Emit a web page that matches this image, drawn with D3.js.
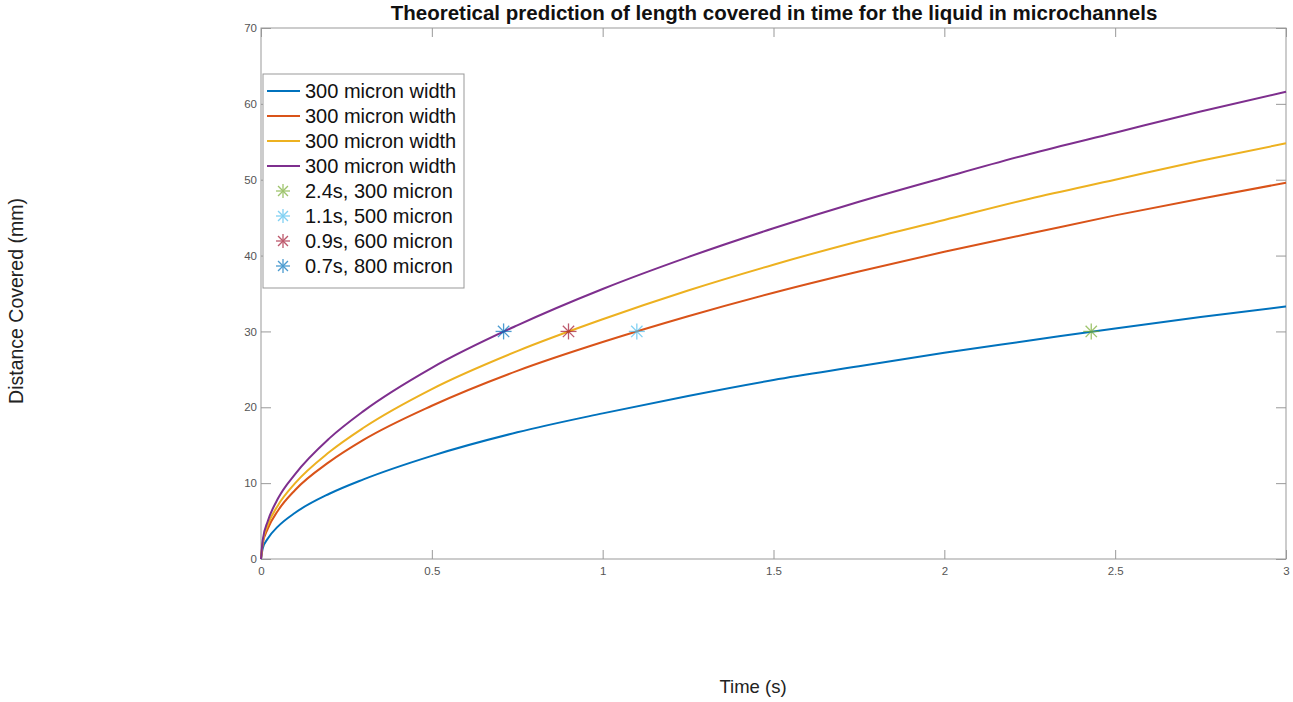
<!DOCTYPE html>
<html>
<head>
<meta charset="utf-8">
<script src="https://cdn.jsdelivr.net/npm/d3@7"></script>
<style>
  body { margin: 0; background: #fff; }
  text { font-family: Arial, "Liberation Sans", Helvetica, sans-serif; }
</style>
</head>
<body>
<script>
// length covered vs time

var time = [0, 0.005, 0.02, 0.05, 0.1, 0.2, 0.3, 0.5, 0.75, 1, 1.25, 1.5, 1.75, 2, 2.25, 2.5, 2.75, 3];
var blue   = [0, 1.4, 2.7, 4.3, 6.1, 8.6, 10.5, 13.6, 16.7, 19.2, 21.5, 23.6, 25.4, 27.2, 28.8, 30.4, 31.9, 33.3];
var orange = [0, 2.0, 4.0, 6.4, 9.1, 12.8, 15.7, 20.2, 24.8, 28.6, 32.0, 35.1, 37.9, 40.5, 42.9, 45.3, 47.5, 49.6];
var yellow = [0, 2.2, 4.5, 7.1, 10.0, 14.1, 17.3, 22.4, 27.4, 31.6, 35.4, 38.8, 41.9, 44.7, 47.5, 50.0, 52.5, 54.8];
var purple = [0, 2.5, 5.0, 8.0, 11.2, 15.9, 19.5, 25.2, 30.8, 35.6, 39.8, 43.6, 47.1, 50.3, 53.4, 56.2, 59.0, 61.6];

var lineNames = ["300 micron width", "300 micron width", "300 micron width", "300 micron width"];
var lineColors = ["#0072BD", "#D95319", "#EDB120", "#7E2F8E"];

var markerNames = ["2.4s, 300 micron", "1.1s, 500 micron", "0.9s, 600 micron", "0.7s, 800 micron"];
var markerT = [2.43, 1.1, 0.9, 0.71];
var markerL = [30, 30, 30, 30];
var markerColors = ["#77AC30", "#4DBEEE", "#A2142F", "#0072BD"];

var xTicks = [0, 0.5, 1, 1.5, 2, 2.5, 3];
var yTicks = [0, 10, 20, 30, 40, 50, 60, 70];

var W = 1293, H = 702;
var margin = {top: 28, right: 7, bottom: 143, left: 261},
    width = W - margin.left - margin.right,
    height = H - margin.top - margin.bottom;

var svg = d3.select("body").append("svg")
    .attr("width", W)
    .attr("height", H);

var g = svg.append("g")
    .attr("transform", "translate(" + margin.left + "," + margin.top + ")");

var x = d3.scaleLinear().domain([0, 3]).range([0, width]);
var y = d3.scaleLinear().domain([0, 70]).range([height, 0]);

var axisColor = "#999";

// box
g.append("rect")
  .attr("width", width).attr("height", height)
  .attr("fill", "none").attr("stroke", axisColor).attr("stroke-width", 1);

// axes, inward ticks on all four sides
function styleAxis(sel) {
  sel.select(".domain").remove();
  sel.selectAll("line").attr("stroke", axisColor);
  sel.selectAll("text").attr("fill", "#555").style("font-size", "11.5px");
}

g.append("g")
  .attr("transform", "translate(0," + height + ")")
  .call(d3.axisBottom(x).tickValues(xTicks).tickFormat(d3.format("")).tickSizeInner(-9).tickPadding(8))
  .call(styleAxis);

g.append("g")
  .call(d3.axisTop(x).tickValues(xTicks).tickFormat("").tickSizeInner(-9))
  .call(styleAxis);

g.append("g")
  .call(d3.axisLeft(y).tickValues(yTicks).tickSizeInner(-10).tickPadding(4))
  .call(styleAxis);

g.append("g")
  .attr("transform", "translate(" + width + ",0)")
  .call(d3.axisRight(y).tickValues(yTicks).tickFormat("").tickSizeInner(-10))
  .call(styleAxis);

// curves
var series = [blue, orange, yellow, purple];
var line = d3.line()
    .x(function(d) { return x(d[0]); })
    .y(function(d) { return y(d[1]); })
    .curve(d3.curveMonotoneX);

series.forEach(function(s, i) {
  g.append("path")
    .datum(time.map(function(t, j) { return [t, s[j]]; }))
    .attr("fill", "none")
    .attr("stroke", lineColors[i])
    .attr("stroke-width", 2)
    .attr("d", line);
});

// asterisk marker
function star(sel, cx, cy, r, color) {
  var m = sel.append("g").attr("transform", "translate(" + cx + "," + cy + ")")
    .attr("stroke", color).attr("stroke-width", 1.3).attr("opacity", 0.7);
  var d = r * 0.7071;
  m.append("line").attr("x1", -r).attr("x2", r).attr("y1", 0).attr("y2", 0);
  m.append("line").attr("x1", 0).attr("x2", 0).attr("y1", -r).attr("y2", r);
  m.append("line").attr("x1", -d).attr("x2", d).attr("y1", -d).attr("y2", d);
  m.append("line").attr("x1", -d).attr("x2", d).attr("y1", d).attr("y2", -d);
}

markerT.forEach(function(t, i) {
  star(g, x(t), y(markerL[i]), 8, markerColors[i]);
});

// title + labels
svg.append("text")
  .attr("x", 774).attr("y", 20)
  .attr("text-anchor", "middle")
  .style("font-size", "20.5px").style("font-weight", "bold")
  .attr("fill", "#111")
  .text("Theoretical prediction of length covered in time for the liquid in microchannels");

svg.append("text")
  .attr("x", 753).attr("y", 693)
  .attr("text-anchor", "middle")
  .style("font-size", "18.5px").attr("fill", "#222")
  .text("Time (s)");

svg.append("text")
  .attr("transform", "translate(23,301) rotate(-90)")
  .attr("text-anchor", "middle")
  .style("font-size", "19.5px").attr("fill", "#222")
  .text("Distance Covered (mm)");

// legend
var legend = svg.append("g").attr("transform", "translate(263,74)");
legend.append("rect")
  .attr("width", 201).attr("height", 214)
  .attr("fill", "#fff").attr("stroke", axisColor);

var rowH = 25, row0 = 17;
lineNames.forEach(function(name, i) {
  var yy = row0 + i * rowH;
  legend.append("line")
    .attr("x1", 4).attr("x2", 37).attr("y1", yy).attr("y2", yy)
    .attr("stroke", lineColors[i]).attr("stroke-width", 2);
  legend.append("text")
    .attr("x", 42).attr("y", yy + 7)
    .style("font-size", "20px").attr("fill", "#111")
    .text(name);
});
markerNames.forEach(function(name, i) {
  var yy = row0 + (i + 4) * rowH;
  star(legend, 20, yy, 7, markerColors[i]);
  legend.append("text")
    .attr("x", 42).attr("y", yy + 7)
    .style("font-size", "20px").attr("fill", "#111")
    .text(name);
});
</script>
</body>
</html>
